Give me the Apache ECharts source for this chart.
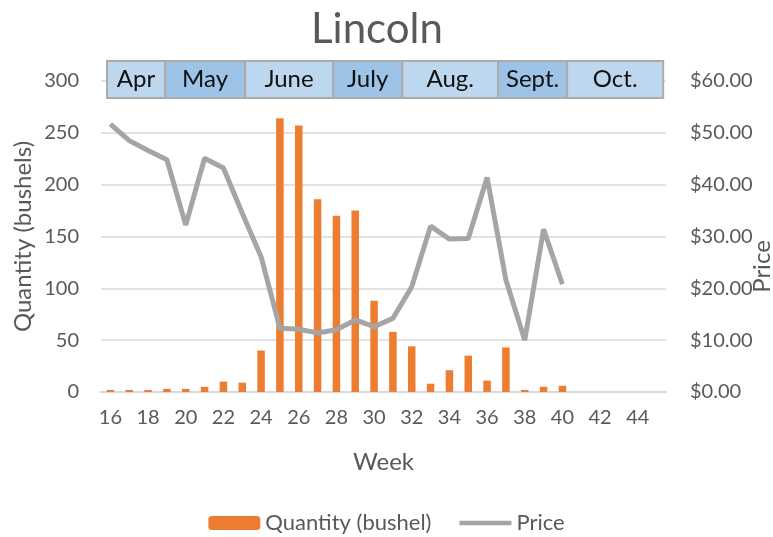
<!DOCTYPE html>
<html>
<head>
<meta charset="utf-8">
<script src="https://cdn.jsdelivr.net/npm/echarts@6/dist/echarts.min.js"></script>
<style>
  html, body { margin: 0; padding: 0; background: #fff; }
  #chart { width: 773px; height: 537px; }
</style>
</head>
<body>
<div id="chart"></div>
<script>
// weeks shown on the category axis (16..45)
const weeks = []
for (let w = 16; w <= 45; w++) weeks.push(String(w))

// quantity (bushels) for weeks 16..40
const quantity = [2, 2, 2, 3, 3, 5, 10, 9, 40, 264, 257, 186, 170, 175, 88, 58, 44, 8, 21, 35, 11, 43, 2, 5, 6]
// price ($) for weeks 16..40
const price = [51.7, 48.5, 46.6, 44.8, 32.2, 45.1, 43.2, 34.5, 26.1, 12.3, 12.1, 11.4, 12.0, 13.9, 12.6, 14.2, 20.3, 32.0, 29.5, 29.6, 41.4, 21.6, 10.0, 31.4, 20.8]

// month band above the plot, in week units
const months = ['Apr', 'May', 'June', 'July', 'Aug.', 'Sept.', 'Oct.']
const monthStart = [15.82, 18.9, 23.15, 27.82, 31.5, 36.58, 40.25]
const monthEnd = [18.9, 23.15, 27.82, 31.5, 36.58, 40.25, 45.35]

const font = 'Lato, "Noto Sans", sans-serif'
const grey = '#595959'

const chart = echarts.init(document.getElementById('chart'))

chart.setOption({
  animation: false,
  title: {
    text: 'Lincoln',
    left: 306,
    top: 3,
    textStyle: { fontFamily: font, fontSize: 42, fontWeight: 'normal', color: grey }
  },
  grid: { left: 101, right: 107, top: 81, bottom: 145, containLabel: false, outerBoundsMode: 'none' },
  legend: {
    data: [
      { name: 'Quantity (bushel)' },
      { name: 'Price', icon: 'path://M0,0 H56 V5 H0 Z' }
    ],
    bottom: -2,
    left: 'center',
    itemWidth: 52,
    itemHeight: 14,
    itemGap: 28,
    textStyle: { fontFamily: font, fontSize: 22, color: grey }
  },
  xAxis: [{
    type: 'category',
    data: weeks,
    name: 'Week',
    nameLocation: 'middle',
    nameGap: 58,
    nameTextStyle: { fontFamily: font, fontSize: 24, color: grey },
    axisLine: { lineStyle: { color: '#D9D9D9', width: 2 } },
    axisTick: { show: false },
    axisLabel: { interval: 1, fontFamily: font, fontSize: 20, color: grey, margin: 16 }
  }, {
    type: 'value',
    min: 15.5,
    max: 45.5,
    show: false
  }],
  yAxis: [{
    type: 'value',
    min: 0,
    max: 300,
    interval: 50,
    name: 'Quantity (bushels)',
    nameLocation: 'middle',
    nameRotate: 90,
    nameGap: 66,
    nameMoveOverlap: false,
    nameTextStyle: { fontFamily: font, fontSize: 24, color: grey },
    axisLine: { show: false },
    axisTick: { show: false },
    axisLabel: { fontFamily: font, fontSize: 20, color: grey, margin: 22 },
    splitLine: { lineStyle: { color: '#D9D9D9', width: 1.5 } }
  }, {
    type: 'value',
    min: 0,
    max: 60,
    interval: 10,
    name: 'Price',
    nameLocation: 'middle',
    nameRotate: 90,
    nameGap: 84,
    nameMoveOverlap: false,
    nameTextStyle: { fontFamily: font, fontSize: 24, color: grey, padding: [0, 60, 0, 0] },
    axisLine: { show: false },
    axisTick: { show: false },
    splitLine: { show: false },
    axisLabel: {
      fontFamily: font, fontSize: 20, color: grey, margin: 24,
      formatter: v => '$' + v.toFixed(2)
    }
  }],
  series: [{
    name: 'Quantity (bushel)',
    type: 'bar',
    data: quantity,
    barWidth: 7.5,
    itemStyle: { color: '#ED7D31' }
  }, {
    name: 'Price',
    type: 'line',
    yAxisIndex: 1,
    data: price,
    symbol: 'none',
    lineStyle: { color: '#A5A5A5', width: 5 },
    itemStyle: { color: '#A5A5A5' },
    z: 3
  }, {
    type: 'custom',
    xAxisIndex: 1,
    yAxisIndex: 0,
    clip: false,
    data: months.map((m, i) => [monthStart[i], monthEnd[i], i]),
    renderItem: (params, api) => {
      const i = api.value(2)
      const x1 = api.coord([api.value(0), 0])[0]
      const x2 = api.coord([api.value(1), 0])[0]
      const top = params.coordSys.y - 20
      const h = 37
      return {
        type: 'group',
        children: [{
          type: 'rect',
          shape: { x: x1, y: top, width: x2 - x1, height: h },
          style: { fill: i % 2 ? '#9DC3E6' : '#BDD7EE', stroke: '#ABABAB', lineWidth: 2 }
        }, {
          type: 'text',
          style: {
            text: months[i],
            x: (x1 + x2) / 2,
            y: top + h / 2,
            align: 'center',
            verticalAlign: 'middle',
            fontFamily: font,
            fontSize: 24,
            fill: '#111'
          }
        }]
      }
    },
    z: 5
  }]
})
</script>
</body>
</html>
